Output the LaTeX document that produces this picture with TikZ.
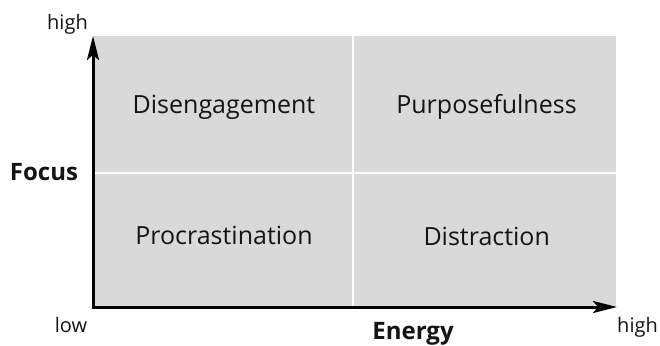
\documentclass[tikz,border=0pt]{standalone}
\usepackage{fontspec}
\setmainfont{Open Sans}
\usetikzlibrary{arrows.meta}
\definecolor{cellgray}{RGB}{217,217,217}
\definecolor{txt}{RGB}{20,20,20}
\begin{document}
\begin{tikzpicture}[x=1pt,y=-1pt,
  cell/.style={fill=cellgray,draw=none},
  lbl/.style={font=\fontsize{25}{30}\selectfont,anchor=base,inner sep=0pt,text=txt},
  axlbl/.style={font=\fontsize{24}{28}\selectfont\bfseries,anchor=base,inner sep=0pt,text=txt},
  ticklbl/.style={font=\fontsize{20}{24}\selectfont,anchor=base,inner sep=0pt,text=txt},
  axis/.style={line width=3pt,line join=miter,-{Stealth[length=24pt,width=12pt,inset=5pt]}}]
\useasboundingbox (0,0) rectangle (660,345);
% cells
\fill[cell] (93,36) rectangle (352,172);
\fill[cell] (354,36) rectangle (616,172);
\fill[cell] (93,174) rectangle (352,307);
\fill[cell] (354,174) rectangle (616,307);
% cell labels
\node[lbl] (dis) at (224,113.3) {Disengagement};
\node[lbl] (pur) at (486.5,113.3) {Purposefulness};
\node[lbl] (pro) at (224,244.5) {Procrastination};
\node[lbl] (dst) at (486.7,245) {Distraction};
% axes
\coordinate (origin) at (93,307);
\coordinate (ytip) at (93,36);
\coordinate (xtip) at (617,307);
\draw[axis] (origin) -- (ytip);
\draw[axis] (origin) -- (xtip);
\fill (91.5,305.5) rectangle (94.5,308.5);
% axis labels
\node[ticklbl] (yhigh) at (67.5,30) {high};
\node[axlbl] (focus) at (44,180) {Focus};
\node[ticklbl] (xlow) at (71,332.7) {low};
\node[axlbl] (energy) at (413,339.5) {Energy};
\node[ticklbl] (xhigh) at (637.5,332.7) {high};
\end{tikzpicture}
\end{document}
